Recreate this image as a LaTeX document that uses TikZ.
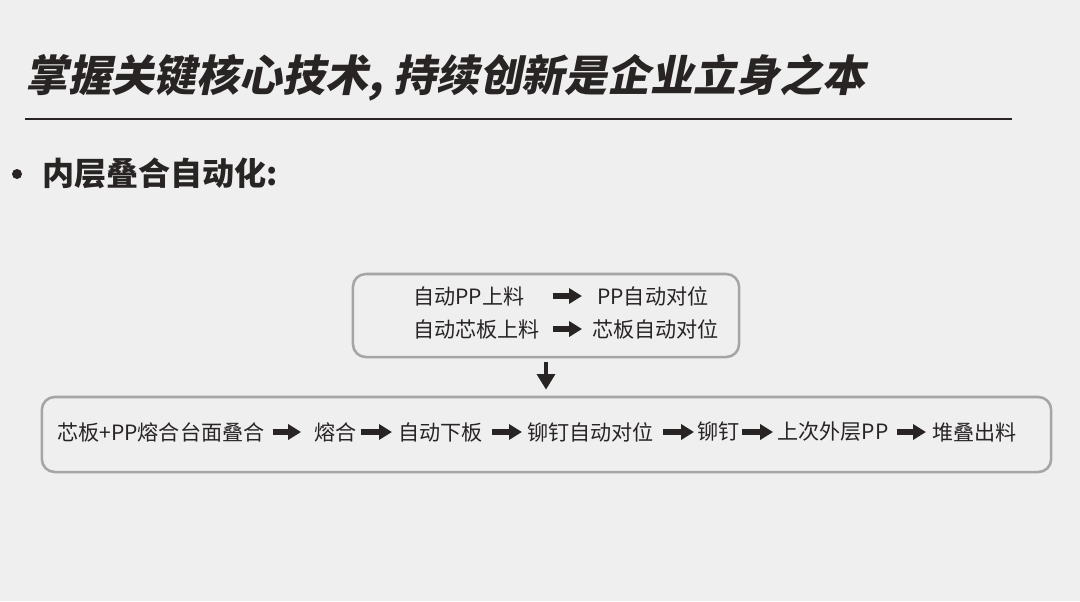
\documentclass[tikz,border=0pt]{standalone}
\usepackage{fontspec}
\usepackage{xcolor}
\usepackage{tikz}
\usetikzlibrary{arrows.meta, positioning, calc}
\newfontfamily\cjk{Noto Sans CJK SC}
\newfontfamily\cjkbold{Noto Sans CJK SC Black}
\newfontfamily\cjktitle[FakeSlant=0.2]{Noto Sans CJK SC Black}
\definecolor{cBg}{RGB}{239,239,239}
\definecolor{cInk}{RGB}{40,36,36}
\definecolor{cFrame}{RGB}{165,165,165}
\tikzset{
	stagebox/.style ={rectangle, rounded corners=0.32cm, draw=cFrame, line width=1.8pt, inner sep=0pt},
	steptxt/.style  ={anchor=west, inner sep=0pt, text=cInk, font=\cjk\fontsize{15}{18}\selectfont},
	fatarrow/.style ={-{Triangle[length=9.2pt, width=10.7pt]}, line width=3.6pt, cInk},
	downarrow/.style={-{Triangle[length=11pt, width=12.5pt]}, line width=3.3pt, cInk},
}
\begin{document}
\begin{tikzpicture}[x=0.025cm, y=-0.025cm]
	\fill[cBg] (0,0) rectangle (1080,601);
	\useasboundingbox (0,0) rectangle (1080,601);
	\node[anchor=west, inner sep=0pt, text=cInk, font=\cjktitle\fontsize{30.5}{36}\selectfont] (title) at (25,78) {掌握关键核心技术, 持续创新是企业立身之本};
	\draw[cInk, line width=2pt] (25,119) -- (1012,119);
	\fill[cInk] (17,174) circle (5);
	\node[anchor=west, inner sep=0pt, text=cInk, font=\cjkbold\fontsize{22.8}{27}\selectfont] (sub) at (42,173) {内层叠合自动化:};
	\node[stagebox, minimum width=9.65cm, minimum height=2.075cm] (feed) at (546,315.5) {};
	\node[stagebox, minimum width=25.225cm, minimum height=1.875cm] (line) at (546.5,434.5) {};
	\node[steptxt] (ppLoad) at (413,296) {自动PP上料};
	\node[steptxt] (ppAlign) at (597,296) {PP自动对位};
	\node[steptxt] (coreLoad) at (413,329) {自动芯板上料};
	\node[steptxt] (coreAlign) at (592,329) {芯板自动对位};
	\node[steptxt] (stack) at (57,432) {芯板+PP熔合台面叠合};
	\node[steptxt] (fuse) at (314,432) {熔合};
	\node[steptxt] (unload) at (398,432) {自动下板};
	\node[steptxt] (rivetAlign) at (527,432) {铆钉自动对位};
	\node[steptxt] (rivet) at (697,432) {铆钉};
	\node[steptxt] (outerPP) at (777,432) {上次外层PP};
	\node[steptxt] (output) at (932,432) {堆叠出料};
	\draw[fatarrow, shorten <=19.9pt, shorten >=10.7pt] (ppLoad.east) -- (ppAlign.west);
	\draw[fatarrow, shorten <=9.2pt, shorten >=7.1pt] (coreLoad.east) -- (coreAlign.west);
	\draw[fatarrow, shorten <=5.7pt, shorten >=9.2pt] (stack.east) -- (fuse.west);
	\draw[fatarrow, shorten <=2.8pt, shorten >=4.3pt] (fuse.east) -- (unload.west);
	\draw[fatarrow, shorten <=6.4pt, shorten >=3.6pt] (unload.east) -- (rivetAlign.west);
	\draw[fatarrow, shorten <=6.4pt, shorten >=2.1pt] (rivetAlign.east) -- (rivet.west);
	\draw[fatarrow, shorten <=1.4pt, shorten >=2.8pt] (rivet.east) -- (outerPP.west);
	\draw[fatarrow, shorten <=5.7pt, shorten >=4.3pt] (outerPP.east) -- (output.west);
	\draw[downarrow, shorten <=2.8pt, shorten >=4.3pt] (feed.south) -- (feed.south |- line.north);
\end{tikzpicture}
\end{document}
